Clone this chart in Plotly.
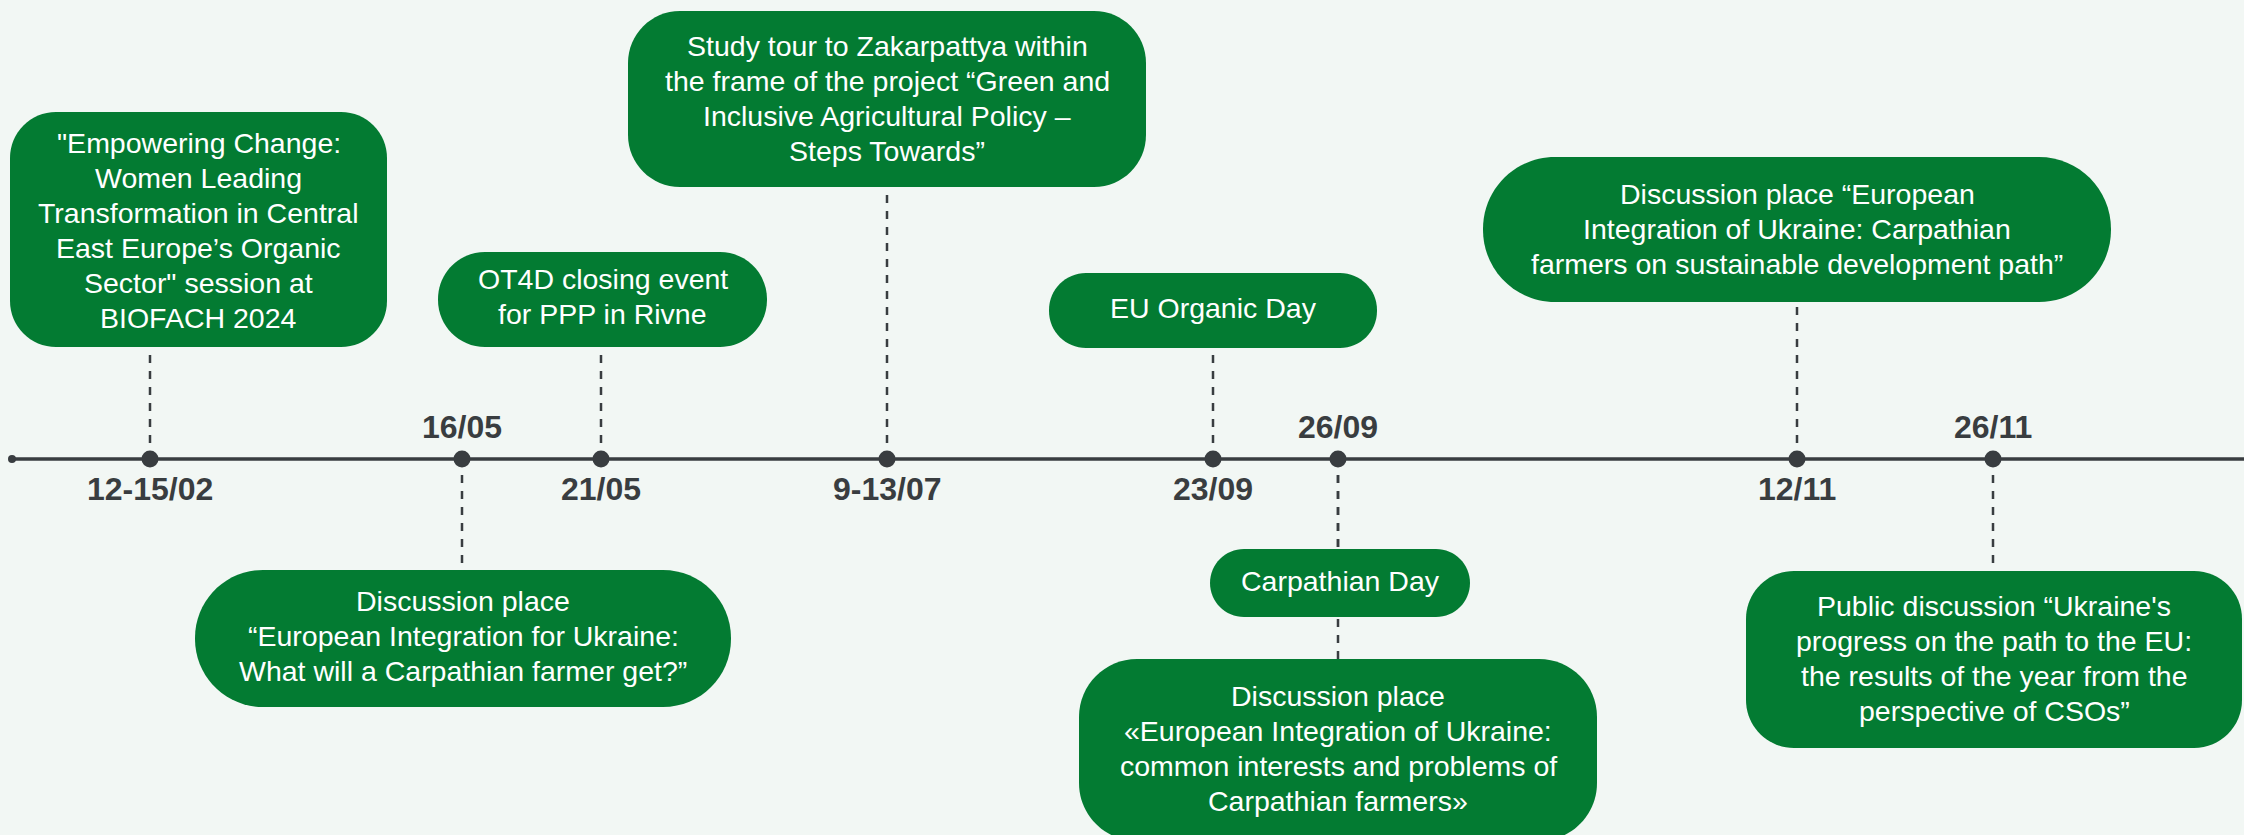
import plotly.graph_objects as go

# ---------------- data ----------------
dates = ["12-15/02", "16/05", "21/05", "9-13/07", "23/09", "26/09", "12/11", "26/11"]
date_pos = [150, 462, 601, 887, 1213, 1338, 1797, 1993]       # position along the timeline
label_side = ["below", "above", "below", "below", "below", "above", "below", "above"]

box_event = [0, 1, 2, 3, 4, 5, 5, 6, 7]                        # index of date each box belongs to
box_text = [
    ['"Empowering Change:', 'Women Leading', 'Transformation in Central',
     'East Europe\u2019s Organic', 'Sector" session at', 'BIOFACH 2024'],
    ['Discussion place', '\u201cEuropean Integration for Ukraine:',
     'What will a Carpathian farmer get?\u201d'],
    ['OT4D closing event', 'for PPP in Rivne'],
    ['Study tour to Zakarpattya within', 'the frame of the project \u201cGreen and',
     'Inclusive Agricultural Policy \u2013', 'Steps Towards\u201d'],
    ['EU Organic Day'],
    ['Carpathian Day'],
    ['Discussion place', '\u00abEuropean Integration of Ukraine:',
     'common interests and problems of', 'Carpathian farmers\u00bb'],
    ['Discussion place \u201cEuropean', 'Integration of Ukraine: Carpathian',
     'farmers on sustainable development path\u201d'],
    ['Public discussion \u201cUkraine\'s', 'progress on the path to the EU:',
     'the results of the year from the', 'perspective of CSOs\u201d'],
]

# ---------------- layout of boxes (pixels) ----------------
box_x0 = [10, 195, 438, 628, 1049, 1210, 1079, 1483, 1746]
box_x1 = [387, 731, 767, 1146, 1377, 1470, 1597, 2111, 2242]
box_y0 = [112, 570, 252, 11, 273, 549, 659, 157, 571]
box_y1 = [347, 707, 347, 187, 348, 617, 841, 302, 748]
box_r = [46, 68, 47, 52, 37, 34, 58, 72, 48]
box_text_cy = [230, 636, 296, 98, 308, 581, 748, 229, 658]

W, H = 2244, 835
AXIS_Y = 459
BG = "#F2F7F4"
GREEN = "#037B32"
DARK = "#393D40"
LINE_GAP = 35
BOX_FONT = 28.5
LABEL_FONT = 32

fig = go.Figure()
shapes = []
annotations = []

# dashed connectors (drawn below boxes)
for i, ev in enumerate(box_event):
    x = date_pos[ev]
    if box_y1[i] < AXIS_Y:
        y_end = box_y1[i]
    else:
        y_end = box_y0[i]
    shapes.append(dict(type="line", xref="x", yref="y", x0=x, x1=x, y0=AXIS_Y, y1=y_end,
                       line=dict(color=DARK, width=2.5, dash="8px,8px"), layer="below"))

# rounded boxes
k = 0.5523
for i in range(len(box_event)):
    x0, x1, y0, y1, r = box_x0[i], box_x1[i], box_y0[i], box_y1[i], box_r[i]
    c = r * (1 - k)
    path = (f"M{x0 + r},{y0} H{x1 - r} "
            f"C{x1 - c},{y0} {x1},{y0 + c} {x1},{y0 + r} "
            f"V{y1 - r} "
            f"C{x1},{y1 - c} {x1 - c},{y1} {x1 - r},{y1} "
            f"H{x0 + r} "
            f"C{x0 + c},{y1} {x0},{y1 - c} {x0},{y1 - r} "
            f"V{y0 + r} "
            f"C{x0},{y0 + c} {x0 + c},{y0} {x0 + r},{y0} Z")
    shapes.append(dict(type="path", xref="x", yref="y", path=path,
                       fillcolor=GREEN, line=dict(width=0), layer="above"))
    lines = box_text[i]
    n = len(lines)
    cx = (x0 + x1) / 2
    for j, t in enumerate(lines):
        yy = box_text_cy[i] + (j - (n - 1) / 2) * LINE_GAP
        annotations.append(dict(x=cx, y=yy, xref="x", yref="y", text=t, showarrow=False,
                                xanchor="center", yanchor="middle",
                                font=dict(family="Arial, Liberation Sans, sans-serif",
                                          size=BOX_FONT, color="white")))

# timeline axis
fig.add_trace(go.Scatter(x=[12, W], y=[AXIS_Y, AXIS_Y], mode="lines",
                         line=dict(color=DARK, width=3.5), hoverinfo="skip"))
fig.add_trace(go.Scatter(x=[12], y=[AXIS_Y], mode="markers",
                         marker=dict(color=DARK, size=8), hoverinfo="skip"))
fig.add_trace(go.Scatter(x=date_pos, y=[AXIS_Y] * len(date_pos), mode="markers",
                         marker=dict(color=DARK, size=17), hoverinfo="skip"))

# date labels
for x, d, s in zip(date_pos, dates, label_side):
    yy = AXIS_Y - 32 if s == "above" else AXIS_Y + 30
    annotations.append(dict(x=x, y=yy, xref="x", yref="y", text=f"<b>{d}</b>", showarrow=False,
                            xanchor="center", yanchor="middle",
                            font=dict(family="Arial, Liberation Sans, sans-serif",
                                      size=LABEL_FONT, color=DARK)))

fig.update_layout(
    width=W, height=H,
    margin=dict(l=0, r=0, t=0, b=0),
    paper_bgcolor=BG, plot_bgcolor=BG,
    showlegend=False,
    shapes=shapes, annotations=annotations,
    xaxis=dict(range=[0, W], visible=False, fixedrange=True),
    yaxis=dict(range=[H, 0], visible=False, fixedrange=True),
)

fig.write_html("out.html", config={"displayModeBar": False},
               post_script="document.body.style.margin='0';")
